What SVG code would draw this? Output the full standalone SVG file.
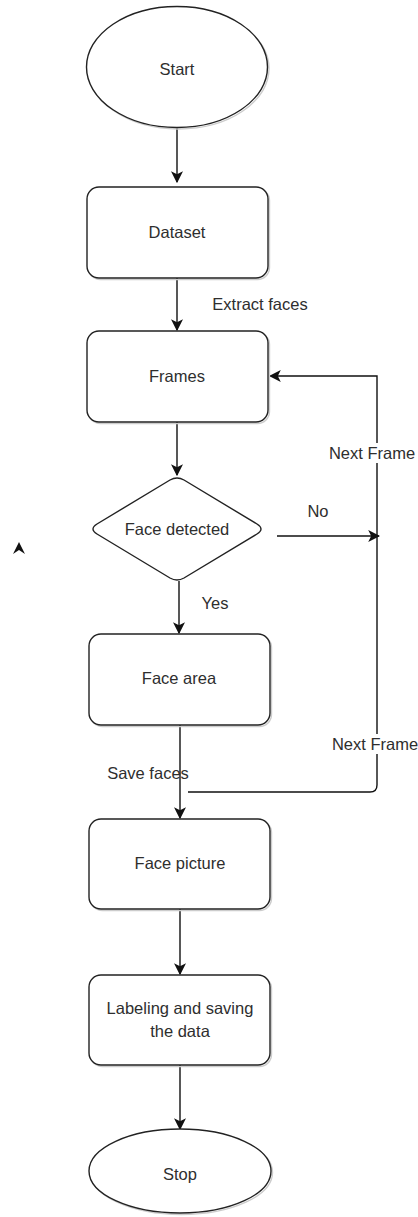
<svg xmlns="http://www.w3.org/2000/svg" width="418" height="1217" viewBox="0 0 418 1217">
<style>
.shape{fill:#fff;stroke:#222;stroke-width:1.4}
.shadow{fill:none;stroke:#ccc;stroke-width:1.4}
.lbl{font-family:"Liberation Sans",Arial,sans-serif;font-size:16.5px;fill:#2e2e2e;text-anchor:middle;dominant-baseline:central}
.edge{fill:none;stroke:#111;stroke-width:1.4}
</style>
<defs>
<marker id="arr" viewBox="0 0 10 10" refX="9" refY="5" markerWidth="12" markerHeight="12" markerUnits="userSpaceOnUse" orient="auto">
<path d="M0,0 L10,5 L0,10 L2.5,5 z" fill="#111"/>
</marker>
</defs>
<rect width="418" height="1217" fill="#fff"/>
<g id="edges">
<path class="edge" d="M177,128 V182" marker-end="url(#arr)"/>
<path class="edge" d="M177,278 V330" marker-end="url(#arr)"/>
<path class="edge" d="M177,422 V475" marker-end="url(#arr)"/>
<path class="edge" d="M277,536 H379" marker-end="url(#arr)"/>
<path class="edge" d="M179,581 V633" marker-end="url(#arr)"/>
<path class="edge" d="M180,725 V818" marker-end="url(#arr)"/>
<path class="edge" d="M188,792 H370 Q377,792 377,785 V376 H270" marker-end="url(#arr)"/>
<path class="edge" d="M180,909 V974" marker-end="url(#arr)"/>
<path class="edge" d="M180,1065 V1129" marker-end="url(#arr)"/>
<path d="M19,542 L25,554 L19,550 L13,554 z" fill="#111"/>
<rect x="330" y="443" width="88" height="20" fill="#fff"/>
<text class="lbl" x="372" y="453">Next Frame</text>
<rect x="330" y="734" width="88" height="20" fill="#fff"/>
<text class="lbl" x="375" y="744">Next Frame</text>
<text class="lbl" x="260" y="304">Extract faces</text>
<text class="lbl" x="318" y="511">No</text>
<text class="lbl" x="215" y="603">Yes</text>
<text class="lbl" x="148" y="773">Save faces</text>
</g>
<g id="start">
<ellipse class="shadow" cx="178.5" cy="68.5" rx="90.5" ry="60.5"/>
<ellipse class="shape" cx="177" cy="67" rx="90.5" ry="60.5"/>
<text class="lbl" x="177" y="69">Start</text>
</g>
<g id="dataset">
<rect class="shadow" x="88.5" y="188.5" width="181" height="91" rx="12"/>
<rect class="shape" x="87" y="187" width="181" height="91" rx="12"/>
<text class="lbl" x="177" y="232">Dataset</text>
</g>
<g id="frames">
<rect class="shadow" x="88.5" y="332.5" width="181" height="91" rx="12"/>
<rect class="shape" x="87" y="331" width="181" height="91" rx="12"/>
<text class="lbl" x="177" y="376">Frames</text>
</g>
<g id="face-detected">
<path class="shape" d="M170,480 Q177,476 184,480 L257,524 Q265,529 257,534 L184,578 Q177,582 170,578 L97,534 Q89,529 97,524 Z"/>
<text class="lbl" x="177" y="529">Face detected</text>
</g>
<g id="face-area">
<rect class="shadow" x="90.5" y="635.5" width="181" height="91" rx="12"/>
<rect class="shape" x="89" y="634" width="181" height="91" rx="12"/>
<text class="lbl" x="179" y="678">Face area</text>
</g>
<g id="face-picture">
<rect class="shadow" x="90.5" y="820.5" width="181" height="90" rx="12"/>
<rect class="shape" x="89" y="819" width="181" height="90" rx="12"/>
<text class="lbl" x="180" y="863">Face picture</text>
</g>
<g id="labeling">
<rect class="shadow" x="90.5" y="976.5" width="181" height="90" rx="12"/>
<rect class="shape" x="89" y="975" width="181" height="90" rx="12"/>
<text class="lbl" x="180" y="1008">Labeling and saving</text>
<text class="lbl" x="180" y="1031">the data</text>
</g>
<g id="stop">
<ellipse class="shadow" cx="181.5" cy="1172.5" rx="91" ry="42"/>
<ellipse class="shape" cx="180" cy="1171" rx="91" ry="42"/>
<text class="lbl" x="180" y="1174">Stop</text>
</g>
</svg>
